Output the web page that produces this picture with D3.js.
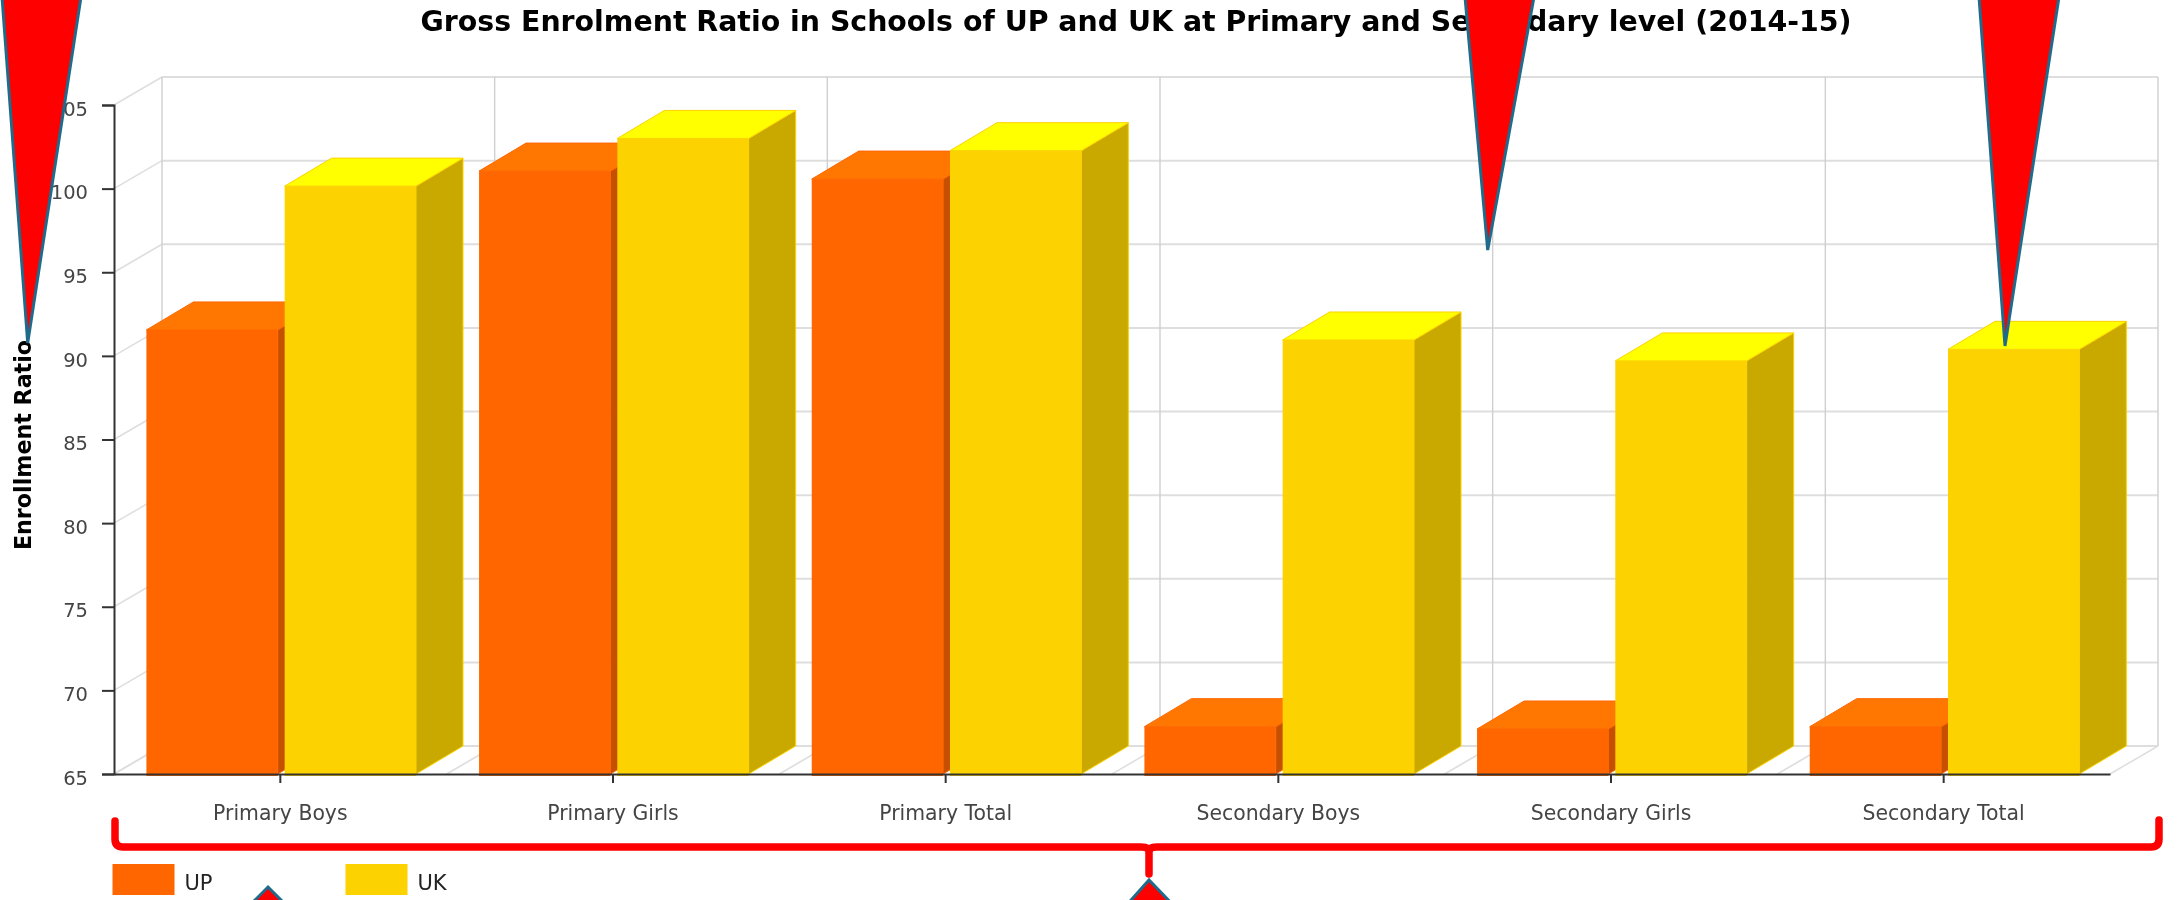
<!DOCTYPE html>
<html><head><meta charset="utf-8">
<script src="https://cdnjs.cloudflare.com/ajax/libs/d3/7.8.5/d3.min.js"></script>
<style>html,body{margin:0;padding:0;background:#fff;overflow:hidden}svg{display:block}
#chart text{font-family:"DejaVu Sans",sans-serif}</style></head>
<body><svg width="2179" height="900" id="root"></svg>
<script>
const categories=["Primary Boys","Primary Girls","Primary Total","Secondary Boys","Secondary Girls","Secondary Total"];
const seriesNames=["UP","UK"];
const upValues=[91.55,101.05,100.57,67.83,67.69,67.83];
const ukValues=[100.15,103.0,102.27,90.95,89.7,90.39];
const yTicks=[65,70,75,80,85,90,95,100,105];
const titleText="Gross Enrolment Ratio in Schools of UP and UK at Primary and Secondary level (2014-15)";
const yTitle="Enrollment Ratio";
const frontColors=["#ff6600","#fcd202"];
const topColors=["#ff7700","#ffff00"];
const sideColors=["#c75000","#c9a900"];

const svg=d3.select("#root");
const defs=svg.append("defs");
defs.append("filter").attr("id","soft").attr("x","-2%").attr("y","-2%").attr("width","104%").attr("height","104%")
  .append("feGaussianBlur").attr("stdDeviation",0.65);
const g=svg.append("g").attr("id","chart").attr("filter","url(#soft)");

const dx=48,dy=-28,barDx=47;
const x=d3.scaleBand().domain(categories).range([114,2110]);
const sub=d3.scaleBand().domain(seriesNames).range([32.4,302]).paddingInner(0.05);
const y=d3.scaleLinear().domain([65,105]).range([774,105]);
const bottom=y(65);

// walls and floor grid
const grid=g.append("g");
const gridH="#dedede",gridV="#cfcfcf";
yTicks.forEach(v=>{
  grid.append("line").attr("x1",x.range()[0]+dx).attr("x2",x.range()[1]+dx).attr("y1",y(v)+dy).attr("y2",y(v)+dy)
    .attr("stroke",gridH).attr("stroke-width",2);
  grid.append("line").attr("x1",x.range()[0]).attr("x2",x.range()[0]+dx).attr("y1",y(v)).attr("y2",y(v)+dy)
    .attr("stroke",gridH).attr("stroke-width",1.5);
});
const edges=categories.map(c=>x(c)).concat([x.range()[1]]);
edges.forEach(e=>{
  grid.append("line").attr("x1",e+dx).attr("x2",e+dx).attr("y1",y(105)+dy).attr("y2",bottom+dy)
    .attr("stroke",gridV).attr("stroke-width",1.4);
  grid.append("line").attr("x1",e).attr("x2",e+dx).attr("y1",bottom).attr("y2",bottom+dy)
    .attr("stroke",gridH).attr("stroke-width",1.5);
});

// bars
const barData=categories.flatMap((c,i)=>[
  {c,s:0,v:upValues[i]},{c,s:1,v:ukValues[i]}
]);
const w=sub.bandwidth();
const bars=g.append("g").selectAll("g").data(barData).join("g");
const poly=p=>p.map(q=>q.join(",")).join(" ");
bars.append("polygon").attr("fill",d=>sideColors[d.s]).attr("stroke",d=>frontColors[d.s]).attr("stroke-width",1)
  .attr("points",d=>{const l=x(d.c)+sub(seriesNames[d.s])+w,t=y(d.v);
    return poly([[l,t],[l+barDx,t+dy],[l+barDx,bottom+dy],[l,bottom]]);});
bars.append("polygon").attr("fill",d=>topColors[d.s]).attr("stroke",d=>frontColors[d.s]).attr("stroke-width",1)
  .attr("points",d=>{const l=x(d.c)+sub(seriesNames[d.s]),t=y(d.v);
    return poly([[l,t],[l+barDx,t+dy],[l+w+barDx,t+dy],[l+w,t]]);});
bars.append("rect").attr("fill",d=>frontColors[d.s])
  .attr("x",d=>x(d.c)+sub(seriesNames[d.s])).attr("width",w)
  .attr("y",d=>y(d.v)).attr("height",d=>bottom+2-y(d.v));

// axes
const axisL=g.append("g").attr("transform","translate(114,0)")
  .call(d3.axisLeft(y).tickValues(yTicks).tickSize(12).tickPadding(14));
const axisB=g.append("g").attr("transform",`translate(0,${bottom})`)
  .call(d3.axisBottom(x).tickSizeInner(9).tickSizeOuter(0).tickPadding(23));
[axisL,axisB].forEach(a=>{
  a.selectAll("path,line").attr("stroke","#333").attr("stroke-width",2);
  a.selectAll("text").attr("fill","#444").attr("font-size",19.5);
});
axisL.selectAll("text").attr("dy","0.57em").attr("y",-1);
axisB.selectAll("text").attr("font-size",20.4);

// titles
g.append("text").attr("x",1136).attr("y",31).attr("text-anchor","middle")
  .attr("font-size",28.4).attr("font-weight","bold").attr("fill","#000").text(titleText);
g.append("text").attr("transform","translate(31,445) rotate(-90)").attr("text-anchor","middle")
  .attr("font-size",22.2).attr("font-weight","bold").attr("fill","#000").text(yTitle);

// legend
const legendX=d3.scalePoint().domain(seriesNames).range([112.5,345.5]);
const legend=g.append("g").selectAll("g").data(seriesNames).join("g");
legend.append("rect").attr("x",d=>legendX(d)).attr("y",864).attr("width",62).attr("height",31)
  .attr("fill",(d,i)=>frontColors[i]);
legend.append("text").attr("x",d=>legendX(d)+72).attr("y",890).attr("font-size",21).attr("fill","#222").text(d=>d);

// annotation overlay, crisp on top of the softened chart
const ann=svg.append("g");
const callouts=[
  [[2,-3],[81,-3],[27.7,343]],
  [[1465,-3],[1534,-3],[1487.7,250]],
  [[1979,-3],[2059,-3],[2005,346]],
  [[247,908],[289,908],[268,887]],
  [[1124,908],[1176,908],[1149,880]]
];
ann.selectAll("polygon").data(callouts).join("polygon").attr("points",poly)
  .attr("fill","#ff0000").attr("stroke","#1f6b8c").attr("stroke-width",3).attr("stroke-linejoin","miter");
ann.append("path").attr("d","M115,821 L115,839 Q115,847 123,847 L1141,847 Q1149,847 1149,852 L1149,874 L1149,852 Q1149,847 1157,847 L2151,847 Q2159,847 2159,839 L2159,820")
  .attr("fill","none").attr("stroke","#ff0000").attr("stroke-width",7.5).attr("stroke-linecap","round").attr("stroke-linejoin","round");
</script></body></html>
